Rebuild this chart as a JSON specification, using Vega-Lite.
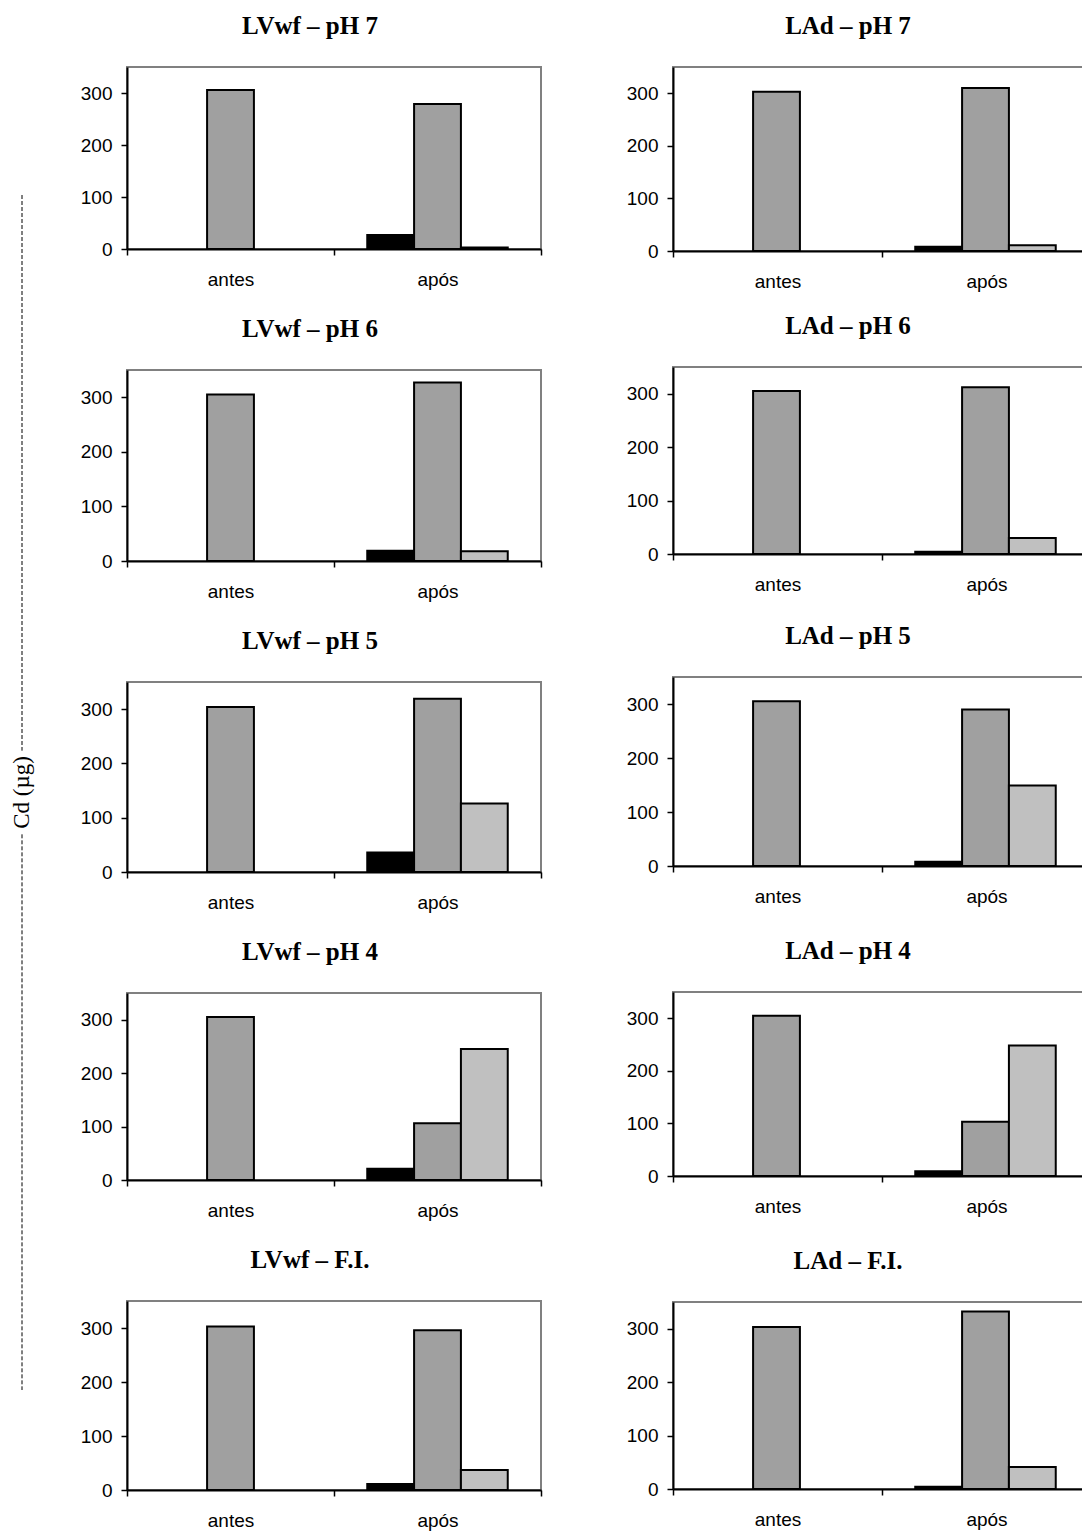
{
  "$schema": "https://vega.github.io/schema/vega-lite/v6.json",
  "padding": {"left": 0, "top": 13, "right": 0, "bottom": 0},
  "background": "white",
  "datasets": {
    "cd": [
      {"painel": "LVwf – pH 7", "momento": "antes", "serie": "Série 2", "Cd": 306},
      {"painel": "LVwf – pH 7", "momento": "após", "serie": "Série 1", "Cd": 27},
      {"painel": "LVwf – pH 7", "momento": "após", "serie": "Série 2", "Cd": 279},
      {"painel": "LVwf – pH 7", "momento": "após", "serie": "Série 3", "Cd": 3},
      {"painel": "LAd – pH 7", "momento": "antes", "serie": "Série 2", "Cd": 303},
      {"painel": "LAd – pH 7", "momento": "após", "serie": "Série 1", "Cd": 8},
      {"painel": "LAd – pH 7", "momento": "após", "serie": "Série 2", "Cd": 310},
      {"painel": "LAd – pH 7", "momento": "após", "serie": "Série 3", "Cd": 11},
      {"painel": "LVwf – pH 6", "momento": "antes", "serie": "Série 2", "Cd": 305},
      {"painel": "LVwf – pH 6", "momento": "após", "serie": "Série 1", "Cd": 19},
      {"painel": "LVwf – pH 6", "momento": "após", "serie": "Série 2", "Cd": 327},
      {"painel": "LVwf – pH 6", "momento": "após", "serie": "Série 3", "Cd": 18},
      {"painel": "LAd – pH 6", "momento": "antes", "serie": "Série 2", "Cd": 305},
      {"painel": "LAd – pH 6", "momento": "após", "serie": "Série 1", "Cd": 4},
      {"painel": "LAd – pH 6", "momento": "após", "serie": "Série 2", "Cd": 312},
      {"painel": "LAd – pH 6", "momento": "após", "serie": "Série 3", "Cd": 30},
      {"painel": "LVwf – pH 5", "momento": "antes", "serie": "Série 2", "Cd": 304},
      {"painel": "LVwf – pH 5", "momento": "após", "serie": "Série 1", "Cd": 36},
      {"painel": "LVwf – pH 5", "momento": "após", "serie": "Série 2", "Cd": 319},
      {"painel": "LVwf – pH 5", "momento": "após", "serie": "Série 3", "Cd": 126},
      {"painel": "LAd – pH 5", "momento": "antes", "serie": "Série 2", "Cd": 305},
      {"painel": "LAd – pH 5", "momento": "após", "serie": "Série 1", "Cd": 8},
      {"painel": "LAd – pH 5", "momento": "após", "serie": "Série 2", "Cd": 290},
      {"painel": "LAd – pH 5", "momento": "após", "serie": "Série 3", "Cd": 149},
      {"painel": "LVwf – pH 4", "momento": "antes", "serie": "Série 2", "Cd": 305},
      {"painel": "LVwf – pH 4", "momento": "após", "serie": "Série 1", "Cd": 21},
      {"painel": "LVwf – pH 4", "momento": "após", "serie": "Série 2", "Cd": 106},
      {"painel": "LVwf – pH 4", "momento": "após", "serie": "Série 3", "Cd": 245},
      {"painel": "LAd – pH 4", "momento": "antes", "serie": "Série 2", "Cd": 305},
      {"painel": "LAd – pH 4", "momento": "após", "serie": "Série 1", "Cd": 9},
      {"painel": "LAd – pH 4", "momento": "após", "serie": "Série 2", "Cd": 103},
      {"painel": "LAd – pH 4", "momento": "após", "serie": "Série 3", "Cd": 248},
      {"painel": "LVwf – F.I.", "momento": "antes", "serie": "Série 2", "Cd": 303},
      {"painel": "LVwf – F.I.", "momento": "após", "serie": "Série 1", "Cd": 11},
      {"painel": "LVwf – F.I.", "momento": "após", "serie": "Série 2", "Cd": 296},
      {"painel": "LVwf – F.I.", "momento": "após", "serie": "Série 3", "Cd": 37},
      {"painel": "LAd – F.I.", "momento": "antes", "serie": "Série 2", "Cd": 303},
      {"painel": "LAd – F.I.", "momento": "após", "serie": "Série 1", "Cd": 4},
      {"painel": "LAd – F.I.", "momento": "após", "serie": "Série 2", "Cd": 332},
      {"painel": "LAd – F.I.", "momento": "após", "serie": "Série 3", "Cd": 41}
    ],
    "rotulo": [
      {"parte": "acima", "de": 0, "ate": 0.465},
      {"parte": "abaixo", "de": 0.535, "ate": 1}
    ]
  },
  "config": {
    "view": {"stroke": "#808080", "strokeWidth": 2},
    "axis": {
      "grid": false,
      "domainColor": "black",
      "domainWidth": 2,
      "tickColor": "black",
      "tickWidth": 1.5,
      "tickSize": 6,
      "labelFont": "Liberation Sans",
      "labelFontSize": 19,
      "labelColor": "black",
      "title": null
    },
    "axisX": {"labelPadding": 15, "labelAngle": 0, "tickBand": "extent"},
    "axisY": {"labelPadding": 9},
    "title": {
      "font": "Liberation Serif",
      "fontSize": 25,
      "fontWeight": "bold",
      "color": "black",
      "anchor": "middle",
      "frame": "group",
      "baseline": "alphabetic",
      "offset": 28,
      "dx": -24
    },
    "bar": {"stroke": "black", "strokeWidth": 2}
  },
  "spacing": 35,
  "hconcat": [
    {
      "width": 44,
      "height": 1330,
      "view": {"stroke": null},
      "layer": [
        {
          "data": {"name": "rotulo"},
          "mark": {"type": "rule", "color": "black", "strokeWidth": 1, "strokeDash": [4, 2]},
          "encoding": {
            "x": {"datum": 0, "type": "quantitative", "scale": {"domain": [-1, 1]}, "axis": null},
            "y": {"field": "de", "type": "quantitative", "scale": {"domain": [0, 1], "range": [128, 1323]}, "axis": null},
            "y2": {"field": "ate"}
          }
        },
        {
          "data": {"values": [{"texto": "Cd (µg)", "pos": 0.5}]},
          "mark": {"type": "text", "angle": 270, "font": "Liberation Serif", "fontSize": 23, "color": "black", "align": "center", "baseline": "middle"},
          "encoding": {
            "x": {"datum": 0, "type": "quantitative", "scale": {"domain": [-1, 1]}, "axis": null},
            "y": {"field": "pos", "type": "quantitative", "scale": {"domain": [0, 1], "range": [128, 1323]}, "axis": null},
            "text": {"field": "texto"}
          }
        }
      ]
    },
    {
      "spacing": 82,
      "hconcat": [
        {
          "spacing": 26,
          "vconcat": [
            {"title": "LVwf – pH 7", "width": 414, "height": 182, "data": {"name": "cd"}, "transform": [{"filter": "datum.painel == 'LVwf – pH 7'"}], "mark": "bar", "encoding": {"x": {"field": "momento", "type": "nominal", "sort": ["antes", "após"], "scale": {"paddingInner": 0, "paddingOuter": 0}}, "xOffset": {"field": "serie", "type": "nominal", "scale": {"domain": ["Série 1", "Série 2", "Série 3"], "paddingInner": 0, "paddingOuter": 0.71}}, "y": {"field": "Cd", "type": "quantitative", "scale": {"domain": [0, 350], "nice": false}, "axis": {"values": [0, 100, 200, 300]}}, "color": {"field": "serie", "type": "nominal", "scale": {"domain": ["Série 1", "Série 2", "Série 3"], "range": ["#000000", "#a0a0a0", "#c0c0c0"]}, "legend": null}}},
            {"title": "LVwf – pH 6", "width": 414, "height": 191, "data": {"name": "cd"}, "transform": [{"filter": "datum.painel == 'LVwf – pH 6'"}], "mark": "bar", "encoding": {"x": {"field": "momento", "type": "nominal", "sort": ["antes", "após"], "scale": {"paddingInner": 0, "paddingOuter": 0}}, "xOffset": {"field": "serie", "type": "nominal", "scale": {"domain": ["Série 1", "Série 2", "Série 3"], "paddingInner": 0, "paddingOuter": 0.71}}, "y": {"field": "Cd", "type": "quantitative", "scale": {"domain": [0, 350], "nice": false}, "axis": {"values": [0, 100, 200, 300]}}, "color": {"field": "serie", "type": "nominal", "scale": {"domain": ["Série 1", "Série 2", "Série 3"], "range": ["#000000", "#a0a0a0", "#c0c0c0"]}, "legend": null}}},
            {"title": "LVwf – pH 5", "width": 414, "height": 190, "data": {"name": "cd"}, "transform": [{"filter": "datum.painel == 'LVwf – pH 5'"}], "mark": "bar", "encoding": {"x": {"field": "momento", "type": "nominal", "sort": ["antes", "após"], "scale": {"paddingInner": 0, "paddingOuter": 0}}, "xOffset": {"field": "serie", "type": "nominal", "scale": {"domain": ["Série 1", "Série 2", "Série 3"], "paddingInner": 0, "paddingOuter": 0.71}}, "y": {"field": "Cd", "type": "quantitative", "scale": {"domain": [0, 350], "nice": false}, "axis": {"values": [0, 100, 200, 300]}}, "color": {"field": "serie", "type": "nominal", "scale": {"domain": ["Série 1", "Série 2", "Série 3"], "range": ["#000000", "#a0a0a0", "#c0c0c0"]}, "legend": null}}},
            {"title": "LVwf – pH 4", "width": 414, "height": 187, "data": {"name": "cd"}, "transform": [{"filter": "datum.painel == 'LVwf – pH 4'"}], "mark": "bar", "encoding": {"x": {"field": "momento", "type": "nominal", "sort": ["antes", "após"], "scale": {"paddingInner": 0, "paddingOuter": 0}}, "xOffset": {"field": "serie", "type": "nominal", "scale": {"domain": ["Série 1", "Série 2", "Série 3"], "paddingInner": 0, "paddingOuter": 0.71}}, "y": {"field": "Cd", "type": "quantitative", "scale": {"domain": [0, 350], "nice": false}, "axis": {"values": [0, 100, 200, 300]}}, "color": {"field": "serie", "type": "nominal", "scale": {"domain": ["Série 1", "Série 2", "Série 3"], "range": ["#000000", "#a0a0a0", "#c0c0c0"]}, "legend": null}}},
            {"title": "LVwf – F.I.", "width": 414, "height": 189, "data": {"name": "cd"}, "transform": [{"filter": "datum.painel == 'LVwf – F.I.'"}], "mark": "bar", "encoding": {"x": {"field": "momento", "type": "nominal", "sort": ["antes", "após"], "scale": {"paddingInner": 0, "paddingOuter": 0}}, "xOffset": {"field": "serie", "type": "nominal", "scale": {"domain": ["Série 1", "Série 2", "Série 3"], "paddingInner": 0, "paddingOuter": 0.71}}, "y": {"field": "Cd", "type": "quantitative", "scale": {"domain": [0, 350], "nice": false}, "axis": {"values": [0, 100, 200, 300]}}, "color": {"field": "serie", "type": "nominal", "scale": {"domain": ["Série 1", "Série 2", "Série 3"], "range": ["#000000", "#a0a0a0", "#c0c0c0"]}, "legend": null}}}
          ]
        },
        {
          "spacing": 21,
          "vconcat": [
            {"title": {"text": "LAd – pH 7", "dx": -34}, "width": 418, "height": 184, "data": {"name": "cd"}, "transform": [{"filter": "datum.painel == 'LAd – pH 7'"}], "mark": "bar", "encoding": {"x": {"field": "momento", "type": "nominal", "sort": ["antes", "após"], "scale": {"paddingInner": 0, "paddingOuter": 0}}, "xOffset": {"field": "serie", "type": "nominal", "scale": {"domain": ["Série 1", "Série 2", "Série 3"], "paddingInner": 0, "paddingOuter": 0.71}}, "y": {"field": "Cd", "type": "quantitative", "scale": {"domain": [0, 350], "nice": false}, "axis": {"values": [0, 100, 200, 300]}}, "color": {"field": "serie", "type": "nominal", "scale": {"domain": ["Série 1", "Série 2", "Série 3"], "range": ["#000000", "#a0a0a0", "#c0c0c0"]}, "legend": null}}},
            {
              "spacing": 28,
              "vconcat": [
                {"title": {"text": "LAd – pH 6", "dx": -34}, "width": 418, "height": 187, "data": {"name": "cd"}, "transform": [{"filter": "datum.painel == 'LAd – pH 6'"}], "mark": "bar", "encoding": {"x": {"field": "momento", "type": "nominal", "sort": ["antes", "após"], "scale": {"paddingInner": 0, "paddingOuter": 0}}, "xOffset": {"field": "serie", "type": "nominal", "scale": {"domain": ["Série 1", "Série 2", "Série 3"], "paddingInner": 0, "paddingOuter": 0.71}}, "y": {"field": "Cd", "type": "quantitative", "scale": {"domain": [0, 350], "nice": false}, "axis": {"values": [0, 100, 200, 300]}}, "color": {"field": "serie", "type": "nominal", "scale": {"domain": ["Série 1", "Série 2", "Série 3"], "range": ["#000000", "#a0a0a0", "#c0c0c0"]}, "legend": null}}},
                {
                  "spacing": 31,
                  "vconcat": [
                    {"title": {"text": "LAd – pH 5", "dx": -34}, "width": 418, "height": 189, "data": {"name": "cd"}, "transform": [{"filter": "datum.painel == 'LAd – pH 5'"}], "mark": "bar", "encoding": {"x": {"field": "momento", "type": "nominal", "sort": ["antes", "após"], "scale": {"paddingInner": 0, "paddingOuter": 0}}, "xOffset": {"field": "serie", "type": "nominal", "scale": {"domain": ["Série 1", "Série 2", "Série 3"], "paddingInner": 0, "paddingOuter": 0.71}}, "y": {"field": "Cd", "type": "quantitative", "scale": {"domain": [0, 350], "nice": false}, "axis": {"values": [0, 100, 200, 300]}}, "color": {"field": "serie", "type": "nominal", "scale": {"domain": ["Série 1", "Série 2", "Série 3"], "range": ["#000000", "#a0a0a0", "#c0c0c0"]}, "legend": null}}},
                    {"title": {"text": "LAd – pH 4", "dx": -34}, "width": 418, "height": 184, "data": {"name": "cd"}, "transform": [{"filter": "datum.painel == 'LAd – pH 4'"}], "mark": "bar", "encoding": {"x": {"field": "momento", "type": "nominal", "sort": ["antes", "após"], "scale": {"paddingInner": 0, "paddingOuter": 0}}, "xOffset": {"field": "serie", "type": "nominal", "scale": {"domain": ["Série 1", "Série 2", "Série 3"], "paddingInner": 0, "paddingOuter": 0.71}}, "y": {"field": "Cd", "type": "quantitative", "scale": {"domain": [0, 350], "nice": false}, "axis": {"values": [0, 100, 200, 300]}}, "color": {"field": "serie", "type": "nominal", "scale": {"domain": ["Série 1", "Série 2", "Série 3"], "range": ["#000000", "#a0a0a0", "#c0c0c0"]}, "legend": null}}},
                    {"title": {"text": "LAd – F.I.", "dx": -34}, "width": 418, "height": 187, "data": {"name": "cd"}, "transform": [{"filter": "datum.painel == 'LAd – F.I.'"}], "mark": "bar", "encoding": {"x": {"field": "momento", "type": "nominal", "sort": ["antes", "após"], "scale": {"paddingInner": 0, "paddingOuter": 0}}, "xOffset": {"field": "serie", "type": "nominal", "scale": {"domain": ["Série 1", "Série 2", "Série 3"], "paddingInner": 0, "paddingOuter": 0.71}}, "y": {"field": "Cd", "type": "quantitative", "scale": {"domain": [0, 350], "nice": false}, "axis": {"values": [0, 100, 200, 300]}}, "color": {"field": "serie", "type": "nominal", "scale": {"domain": ["Série 1", "Série 2", "Série 3"], "range": ["#000000", "#a0a0a0", "#c0c0c0"]}, "legend": null}}}
                  ]
                }
              ]
            }
          ]
        }
      ]
    }
  ]
}
